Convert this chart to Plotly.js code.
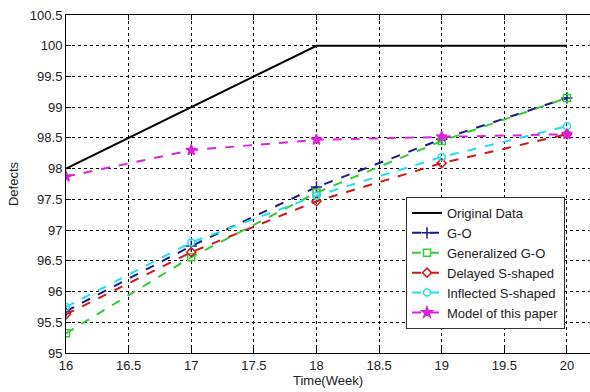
<!DOCTYPE html>
<html>
<head>
<meta charset="utf-8">
<script src="https://cdn.plot.ly/plotly-3.0.1.min.js"></script>
<style>html,body{margin:0;padding:0;background:#fff;}#chart{width:590px;height:392px;}</style>
</head>
<body>
<div id="chart"></div>
<script>
const weeks = [16, 17, 18, 19, 20];
const originalData = [98, 99, 100, 100, 100];
const goModel = [95.68, 96.74, 97.7, 98.48, 99.15];
const generalizedGO = [95.32, 96.56, 97.61, 98.45, 99.15];
const delayedS = [95.63, 96.64, 97.47, 98.09, 98.56];
const inflectedS = [95.75, 96.8, 97.56, 98.19, 98.69];
const thisPaper = [97.87, 98.3, 98.47, 98.52, 98.56];
const xTicks = [16, 16.5, 17, 17.5, 18, 18.5, 19, 19.5, 20];
const yTicks = [95, 95.5, 96, 96.5, 97, 97.5, 98, 98.5, 99, 99.5, 100, 100.5];

function dashed(name, y, color, symbol, size) {
  return {
    x: weeks, y: y, name: name, type: 'scatter', mode: 'lines+markers',
    line: {color: color, width: 2, dash: 'dash'},
    marker: {symbol: symbol, size: size, color: color, line: {color: color, width: 1.5}}
  };
}

const traces = [
  {x: weeks, y: originalData, name: 'Original Data', type: 'scatter', mode: 'lines',
   line: {color: '#000000', width: 2}},
  dashed('G-O', goModel, '#1a1a8c', 'cross-thin', 8),
  dashed('Generalized G-O', generalizedGO, '#33cc33', 'square-open', 7),
  dashed('Delayed S-shaped', delayedS, '#cc1a1a', 'diamond-open', 7),
  dashed('Inflected S-shaped', inflectedS, '#22e0ee', 'circle-open', 7),
  dashed('Model of this paper', thisPaper, '#dd22dd', 'star', 8)
];

const layout = {
  width: 590, height: 392,
  margin: {l: 66, r: 0, t: 15, b: 39},
  paper_bgcolor: '#ffffff', plot_bgcolor: '#ffffff',
  font: {family: 'Liberation Sans, Arial, sans-serif', size: 13, color: '#222'},
  showlegend: true,
  xaxis: {
    range: [16, 20.184], tickvals: xTicks, ticktext: xTicks.map(String),
    showgrid: true, gridcolor: '#000', griddash: 'dot', gridwidth: 1,
    showline: true, linecolor: '#000', linewidth: 1, mirror: 'ticks',
    ticks: 'inside', ticklen: 5, tickcolor: '#000', zeroline: false,
    title: {text: 'Time(Week)', font: {size: 13}, standoff: 4},
    tickfont: {size: 13}
  },
  yaxis: {
    range: [95, 100.5], tickvals: yTicks, ticktext: yTicks.map(String),
    showgrid: true, gridcolor: '#000', griddash: 'dot', gridwidth: 1,
    showline: true, linecolor: '#000', linewidth: 1, mirror: false,
    ticks: 'inside', ticklen: 5, tickcolor: '#000', zeroline: false,
    title: {text: 'Defects', font: {size: 13}, standoff: 8},
    tickfont: {size: 13}
  },
  legend: {
    bgcolor: '#ffffff', bordercolor: '#333', borderwidth: 1,
    font: {size: 13, color: '#222'}, tracegroupgap: 0
  }
};
layout.legend.x = (406 - 66) / (590 - 66);
layout.legend.y = 1 - (197 - 15) / (353 - 15);
layout.legend.xanchor = 'left';
layout.legend.yanchor = 'top';

Plotly.newPlot('chart', traces, layout, {displayModeBar: false, staticPlot: true});
</script>
</body>
</html>
